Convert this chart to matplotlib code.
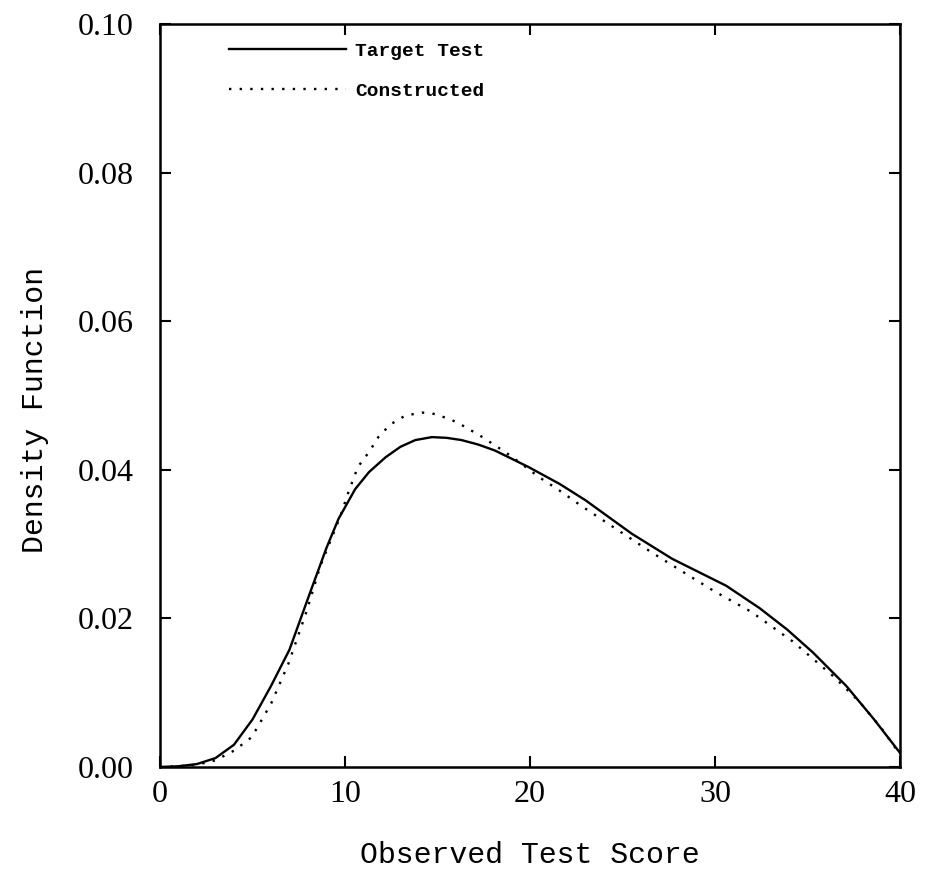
import numpy as np
import matplotlib.pyplot as plt

# density values (target test, solid line)
target_x = [0, 1, 2, 3, 4, 5, 6, 7, 8, 9, 9.65, 10.55, 11.3, 12.2, 13, 13.8, 14.7,
            15.5, 16.3, 17.2, 18.1, 19, 19.9, 21.6, 23, 25.5, 27.7, 30.6, 32.4,
            33.9, 35.3, 37.1, 38.6, 40]
target_y = [0.0, 0.0001, 0.0004, 0.0012, 0.0030, 0.0064, 0.0109, 0.0158, 0.0227,
            0.0295, 0.0334, 0.0374, 0.0397, 0.0417, 0.0431, 0.0440, 0.0444, 0.0443,
            0.0440, 0.0434, 0.0426, 0.0415, 0.0404, 0.0381, 0.0359, 0.0314, 0.0280,
            0.0244, 0.0214, 0.0185, 0.0154, 0.0109, 0.0064, 0.0019]

# constructed test, dotted line
constr_x = [0, 1, 2, 3, 4, 4.95, 6, 6.94, 7.93, 8.66, 9.74, 10.2, 10.7, 11.3, 11.8,
            12.45, 13.26, 14.16, 14.7, 15.7, 16.4, 17.3, 18.1, 19, 20.5, 21.6, 22.8,
            24.8, 26.5, 28.5, 30, 31.95, 34.2, 36.4, 37.8, 39, 40]
constr_y = [0.0, 0.0001, 0.0003, 0.0009, 0.0022, 0.0040, 0.0085, 0.0139, 0.0210,
            0.0270, 0.0337, 0.0371, 0.0404, 0.0424, 0.0444, 0.0461, 0.0473, 0.0477,
            0.0476, 0.0468, 0.0459, 0.0446, 0.0433, 0.0418, 0.0390, 0.0372, 0.0351,
            0.0318, 0.0290, 0.0259, 0.0236, 0.0209, 0.0169, 0.0122, 0.0088, 0.0052,
            0.0017]

xticks = [0, 10, 20, 30, 40]
yticks = [0, 0.02, 0.04, 0.06, 0.08, 0.10]
ytick_labels = ['0.00', '0.02', '0.04', '0.06', '0.08', '0.10']

tick_font = 'Liberation Serif'
label_font = 'Liberation Mono'

fig = plt.figure(figsize=(9.26, 8.89), dpi=100)
ax = fig.add_axes([160/926, 122/889, 740/926, 743/889])

ax.plot(target_x, target_y, color='black', lw=1.7, label='Target Test')
ax.plot(constr_x, constr_y, color='black', lw=1.7, linestyle=(0, (1, 3.5)),
        label='Constructed')

ax.set_xlim(0, 40)
ax.set_ylim(0, 0.10)
ax.set_xticks(xticks)
ax.set_yticks(yticks)
ax.set_yticklabels(ytick_labels)
ax.tick_params(direction='in', length=8, width=1.5, top=True, right=True)
ax.tick_params(axis='x', pad=9)
ax.tick_params(axis='y', pad=19)
for lab in ax.get_xticklabels() + ax.get_yticklabels():
    lab.set_fontfamily(tick_font)
    lab.set_fontsize(23)
for s in ax.spines.values():
    s.set_linewidth(1.8)

ax.set_xlabel('Observed Test Score', fontfamily=label_font, fontsize=21.5)
ax.set_ylabel('Density Function', fontfamily=label_font, fontsize=21.5)
ax.xaxis.set_label_coords(0.5, -0.10)
ax.yaxis.set_label_coords(-0.15, 0.48)

ax.legend(loc='upper left', bbox_to_anchor=(0.08, 0.988), frameon=False,
          prop={'family': label_font, 'weight': 'bold', 'size': 14},
          handlelength=6.0, handletextpad=0.5, labelspacing=1.15, borderpad=0)

fig.savefig('out.png', dpi=100)
